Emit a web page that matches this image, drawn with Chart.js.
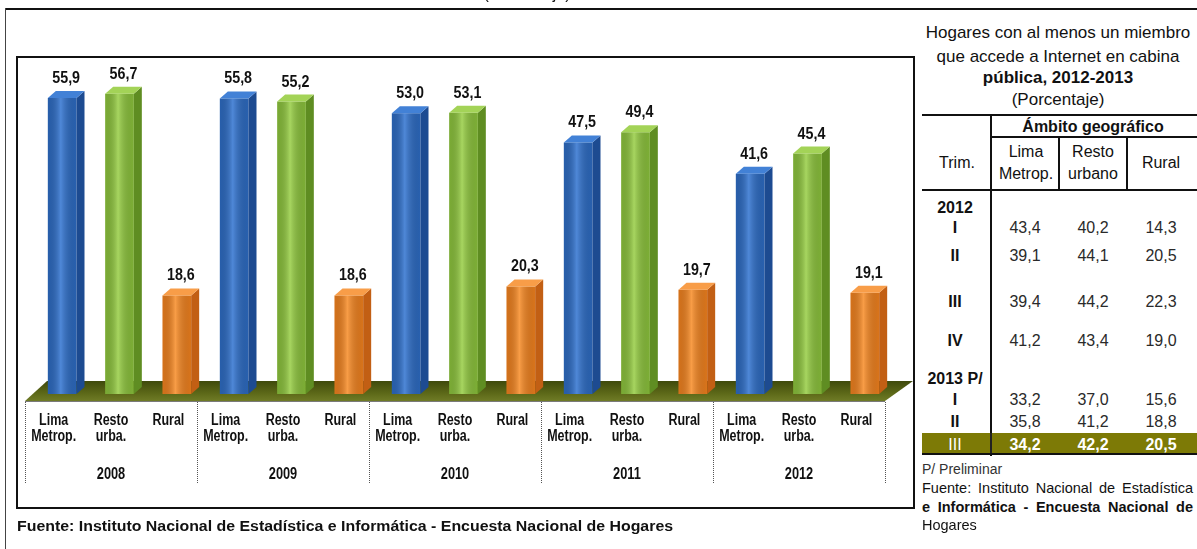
<!DOCTYPE html>
<html>
<head>
<meta charset="utf-8">
<script src="https://cdn.jsdelivr.net/npm/chart.js@4.4.1/dist/chart.umd.min.js"></script>
<style>
html, body { margin: 0; padding: 0; background: #fff; }
body { width: 1197px; height: 549px; position: relative; overflow: hidden;
       font-family: "Liberation Sans", Arial, sans-serif; color: #111; }
.abs { position: absolute; }
#myChart { position: absolute; left: 0; top: 0; }
</style>
</head>
<body>
<div class="abs" style="left:5px;top:8px;width:1192px;height:2px;background:#111"></div>
<div class="abs" style="left:5px;top:8px;width:1px;height:541px;background:#444"></div>
<div class="abs" style="left:16px;top:56px;width:895px;height:449px;border:2px solid #111"></div>
<canvas id="myChart" width="920" height="549"></canvas>
<div id="panel"></div>

<script>
// chart data
const years = ['2008', '2009', '2010', '2011', '2012'];
const zoneLabels = [['Lima', 'Metrop.'], ['Resto', 'urba.'], ['Rural']];
const limaMetrop = [55.9, 55.8, 53.0, 47.5, 41.6];
const restoUrbano = [56.7, 55.2, 53.1, 49.4, 45.4];
const rural = [18.6, 18.6, 20.3, 19.7, 19.1];

// table data
const trimLabels = ['2012', 'I', 'II', 'III', 'IV', '2013 P/', 'I', 'II', 'III'];
const tabLima = [null, 43.4, 39.1, 39.4, 41.2, null, 33.2, 35.8, 34.2];
const tabResto = [null, 40.2, 44.1, 44.2, 43.4, null, 37.0, 41.2, 42.2];
const tabRural = [null, 14.3, 20.5, 22.3, 19.0, null, 15.6, 18.8, 20.5];

const fmt = v => v.toFixed(1).replace('.', ',');

// colours: face, side, top, highlight
const palette = [
  { face: '#2d6cc4', side: '#1d4b91', top: '#4281d6', hi: 'rgba(120,170,240,0.45)' },
  { face: '#8cc43c', side: '#5f8d22', top: '#a3d357', hi: 'rgba(200,235,140,0.45)' },
  { face: '#f3821e', side: '#c25f14', top: '#f89d48', hi: 'rgba(255,190,120,0.45)' }
];

const DX = 8, DY = 7;      // depth of the 3d bars
const SHIFT = 8.5;         // bars sit a little to the right of the label cells
const FONT = '"Liberation Sans", Arial, sans-serif';

const drawText = (ctx, str, x, y, size, sx, weight) => {
  ctx.save();
  ctx.font = `${weight || 'normal'} ${size}px ${FONT}`;
  ctx.textAlign = 'center';
  ctx.textBaseline = 'alphabetic';
  ctx.fillStyle = '#111';
  ctx.translate(x, y);
  ctx.scale(sx, 1);
  ctx.fillText(str, 0, 0);
  ctx.restore();
};

const groupInfo = chart => {
  const x = chart.scales.x;
  const gw = x.getPixelForValue(1) - x.getPixelForValue(0);
  const left = i => x.getPixelForValue(i) - gw / 2 - SHIFT;
  return { gw, left };
};

const bar3d = {
  id: 'bar3d',
  beforeDatasetsDraw(chart) {
    const { ctx, scales: { y } } = chart;
    const base = y.getPixelForValue(0);
    const { left } = groupInfo(chart);
    const l = left(0), r = left(years.length);
    ctx.save();
    const g = ctx.createLinearGradient(0, base - 13, 0, base + 7);
    g.addColorStop(0, '#3f4a0c');
    g.addColorStop(0.6, '#5c6818');
    g.addColorStop(1, '#6f7b26');
    ctx.fillStyle = g;
    ctx.beginPath();
    ctx.moveTo(l, base + 7);
    ctx.lineTo(l + 22, base - 13);
    ctx.lineTo(r + 28, base - 13);
    ctx.lineTo(r, base + 7);
    ctx.closePath();
    ctx.fill();
    ctx.restore();
  },
  afterDatasetsDraw(chart) {
    const { ctx } = chart;
    chart.data.datasets.forEach((ds, di) => {
      const c = palette[di];
      chart.getDatasetMeta(di).data.forEach((bar, i) => {
        const { x: cx, y: top, base, width } = bar.getProps(['x', 'y', 'base', 'width'], true);
        const l = cx - width / 2, r = cx + width / 2;
        ctx.save();
        // highlight stripe on the front face
        const hg = ctx.createLinearGradient(l, 0, r, 0);
        hg.addColorStop(0, 'rgba(0,0,0,0.12)');
        hg.addColorStop(0.45, c.hi);
        hg.addColorStop(1, 'rgba(0,0,0,0.10)');
        ctx.fillStyle = hg;
        ctx.fillRect(l, top, width, base - top);
        // side
        ctx.fillStyle = c.side;
        ctx.beginPath();
        ctx.moveTo(r, top);
        ctx.lineTo(r + DX, top - DY);
        ctx.lineTo(r + DX, base - DY);
        ctx.lineTo(r, base);
        ctx.closePath();
        ctx.fill();
        // top
        ctx.fillStyle = c.top;
        ctx.beginPath();
        ctx.moveTo(l, top);
        ctx.lineTo(l + DX, top - DY);
        ctx.lineTo(r + DX, top - DY);
        ctx.lineTo(r, top);
        ctx.closePath();
        ctx.fill();
        ctx.restore();
        drawText(ctx, fmt(ds.data[i]), cx + DX / 2, top - 15, 17, 0.84, 'bold');
      });
    });
  },
  afterDraw(chart) {
    const { ctx, scales: { y } } = chart;
    const base = y.getPixelForValue(0);
    const { gw, left } = groupInfo(chart);
    ctx.save();
    // line under the floor
    ctx.strokeStyle = '#7a7a7a';
    ctx.lineWidth = 1;
    ctx.beginPath();
    ctx.moveTo(left(0), base + 7.5);
    ctx.lineTo(left(years.length), base + 7.5);
    ctx.stroke();
    // dotted separators
    ctx.strokeStyle = '#555';
    ctx.setLineDash([1, 1]);
    for (let k = 0; k <= years.length; k++) {
      const xx = Math.round(left(k)) + 0.5;
      ctx.beginPath();
      ctx.moveTo(xx, base + 8);
      ctx.lineTo(xx, base + 90);
      ctx.stroke();
    }
    ctx.restore();
    // category and year labels
    years.forEach((yr, i) => {
      const l = left(i);
      zoneLabels.forEach((lines, k) => {
        const cx = l + gw / 3 * (k + 0.5);
        lines.forEach((t, j) => drawText(ctx, t, cx, base + 31 + j * 16, 16, 0.78, 'bold'));
      });
      drawText(ctx, yr, l + gw / 2, base + 85, 16, 0.8, 'bold');
    });
  }
};

let myChart;
const setup = () => {
  const ctxt = document.getElementById('myChart').getContext('2d');
  myChart = new Chart(ctxt, {
    type: 'bar',
    data: {
      labels: years,
      datasets: [
        { label: 'Lima Metrop.', data: limaMetrop, backgroundColor: palette[0].face },
        { label: 'Resto urbano', data: restoUrbano, backgroundColor: palette[1].face },
        { label: 'Rural', data: rural, backgroundColor: palette[2].face }
      ]
    },
    options: {
      responsive: false,
      animation: false,
      layout: { padding: { left: 33.5, right: 26.5, top: 55, bottom: 155 } },
      datasets: { bar: { categoryPercentage: 1.0, barPercentage: 0.5, borderWidth: 0 } },
      plugins: { legend: { display: false }, tooltip: { enabled: false } },
      scales: {
        x: { display: false },
        y: { display: false, min: 0, max: 64 }
      }
    },
    plugins: [bar3d]
  });

  buildPanel();
};

// right-hand table and texts
const panel = () => document.getElementById('panel');
const rule = (x, y, w, h, c) => {
  const d = document.createElement('div');
  d.className = 'abs';
  d.style.cssText += `left:${x}px;top:${y}px;width:${w}px;height:${h}px;background:${c || '#111'}`;
  panel().appendChild(d);
  return d;
};
const put = (x, base, text, size, opt = {}) => {
  const d = document.createElement('div');
  d.className = 'abs';
  d.textContent = text;
  const sx = opt.sx || 1;
  d.style.cssText += `white-space:nowrap;font-size:${size}px;line-height:${(size * 1.117).toFixed(2)}px;` +
    `top:${(base - size * 0.905).toFixed(1)}px;left:${x}px;font-weight:${opt.bold ? 'bold' : 'normal'};` +
    `color:${opt.color || '#111'};`;
  if (opt.align === 'left') {
    d.style.transformOrigin = 'left center';
    d.style.transform = `scaleX(${sx})`;
  } else {
    d.style.transform = `translateX(-50%) scaleX(${sx})`;
  }
  if (opt.width) {
    d.style.width = opt.width + 'px';
    d.style.whiteSpace = 'normal';
    d.style.textAlign = 'justify';
    d.style.textAlignLast = 'justify';
  }
  panel().appendChild(d);
  return d;
};

const buildPanel = () => {
  // cut-off heading above the frame
  put(527, -1, '(Porcentaje)', 16);

  // source under the chart, stretched to its width
  const src = put(17, 532, 'Fuente: Instituto Nacional de Estadística e Informática - Encuesta Nacional de Hogares', 14,
    { bold: true, align: 'left' });
  src.style.transform = `scaleX(${(656 / src.offsetWidth).toFixed(3)})`;

  const cx = 1058;
  put(cx, 38, 'Hogares con al menos un miembro', 17);
  put(cx, 62, 'que accede a Internet en cabina', 17);
  put(cx, 83, 'pública, 2012-2013', 17, { bold: true });
  put(cx, 105, '(Porcentaje)', 17);

  rule(922, 114, 275, 2);
  rule(990, 114, 2, 342);
  rule(990, 136, 207, 2);
  rule(1058, 136, 2, 54);
  rule(1126, 136, 2, 54);
  rule(922, 189, 275, 2);

  put(1093, 132, 'Ámbito geográfico', 16, { bold: true });
  put(957, 168, 'Trim.', 16);
  put(1026, 157, 'Lima', 16);
  put(1026, 179, 'Metrop.', 16);
  put(1093, 157, 'Resto', 16);
  put(1093, 179, 'urbano', 16);
  put(1161, 168, 'Rural', 16);

  const rowBase = [213, 233, 261, 307, 346, 384, 405, 427, 450];
  const last = trimLabels.length - 1;
  rule(922, 433, 275, 20, '#7d7a06');
  rule(990, 433, 2, 20, '#222');
  rule(922, 453, 275, 2);

  trimLabels.forEach((t, i) => {
    const hl = i === last;
    put(955, rowBase[i], t, 16, { bold: !hl, color: hl ? '#fff' : '#111' });
    [[1025, tabLima], [1093, tabResto], [1161, tabRural]].forEach(([x, arr]) => {
      if (arr[i] == null) return;
      put(x, rowBase[i], fmt(arr[i]), 16, { bold: hl, color: hl ? '#fff' : '#2a2a2a' });
    });
  });

  put(922, 475, 'P/ Preliminar', 14, { align: 'left', color: '#333' });
  put(922, 493, 'Fuente: Instituto Nacional de Estadística', 14.5, { align: 'left', width: 271 });
  put(922, 512, 'e Informática -  Encuesta Nacional de', 14.5, { align: 'left', width: 271, bold: true });
  put(922, 530, 'Hogares', 14.5, { align: 'left' });
};

window.addEventListener('DOMContentLoaded', setup);
</script>
</body>
</html>
